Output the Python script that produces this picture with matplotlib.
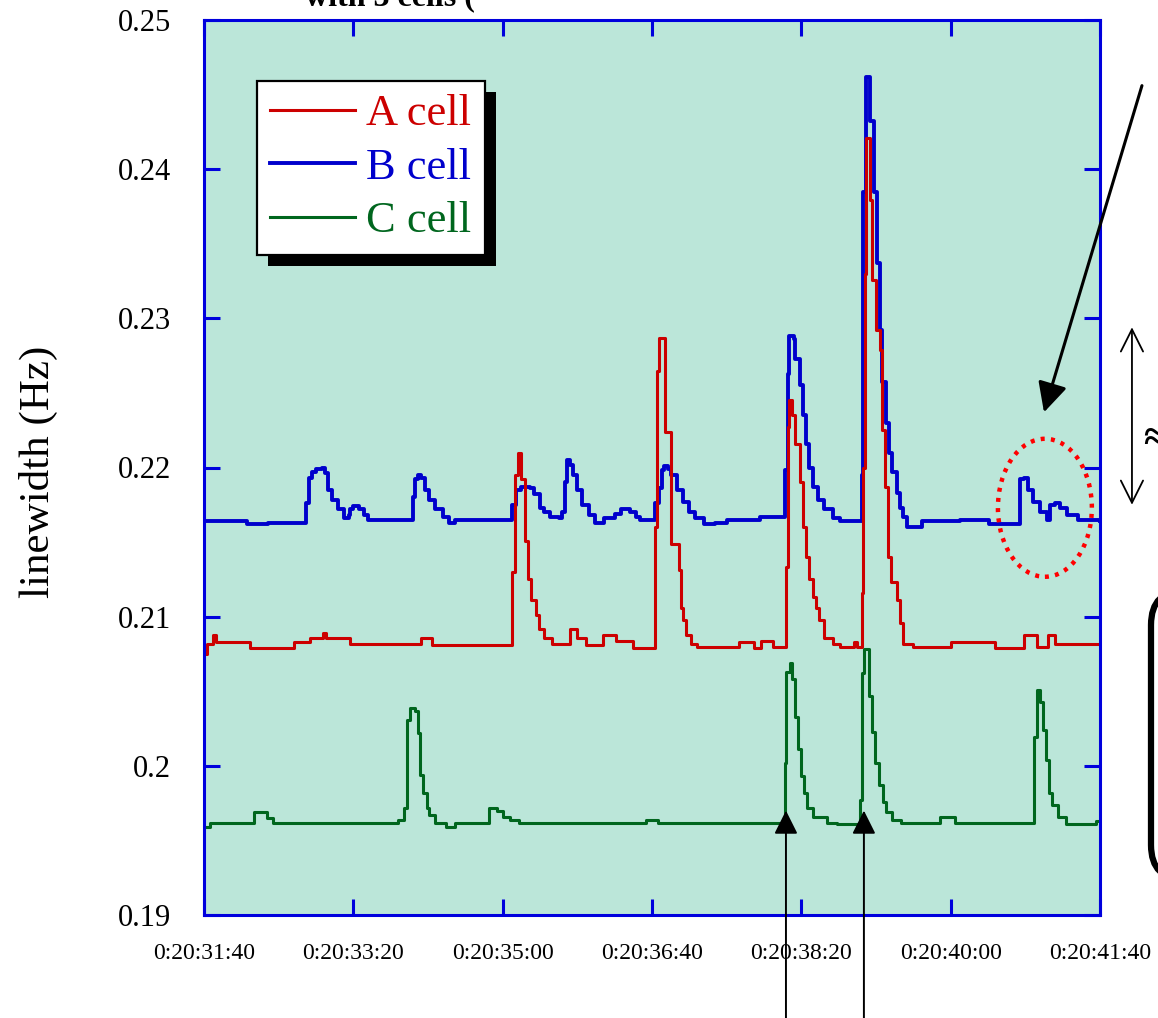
import matplotlib
matplotlib.use('Agg')
import matplotlib.pyplot as plt
from matplotlib.patches import Ellipse, FancyBboxPatch, Rectangle
from matplotlib.transforms import IdentityTransform

plt.rcParams['font.family'] = ['Liberation Serif', 'DejaVu Serif']

# time in seconds after 0:20:31:40
x_ticks = [0, 100, 200, 300, 400, 500, 600]
x_labels = ['0:20:31:40', '0:20:33:20', '0:20:35:00', '0:20:36:40',
            '0:20:38:20', '0:20:40:00', '0:20:41:40']
y_ticks = [0.19, 0.20, 0.21, 0.22, 0.23, 0.24, 0.25]
y_labels = ['0.19', '0.2', '0.21', '0.22', '0.23', '0.24', '0.25']

# B cell (blue)
b_t = [0, 29, 43, 68, 70, 72, 75, 79, 81, 83, 86, 90, 94, 97, 98, 100, 104, 107, 110,
       140, 141, 143, 145, 148, 151, 155, 160, 164, 168,
       206, 209, 212, 218, 221, 225, 228, 232, 238, 240, 242, 243, 245, 247, 250, 253,
       258, 262, 268, 275, 279, 285, 289, 292,
       302, 305, 307, 308, 311, 313, 317, 321, 325, 329, 335, 342, 350, 372,
       389, 391, 392, 395, 396, 399, 401, 403, 405, 408, 411, 415, 421, 426,
       440.5, 441.5, 443, 446, 448.5, 450.5, 452.5, 454, 457, 459, 461, 464, 466, 468,
       471, 481, 506, 526, 546.5, 549, 552, 555, 560, 564.5, 566.5, 570, 573, 578, 585, 600]
b_v = [0.2164, 0.2162, 0.2163, 0.2176, 0.2193, 0.2197, 0.2199, 0.2200, 0.2196, 0.2185,
       0.2178, 0.2172, 0.2166, 0.2168, 0.2172, 0.2174, 0.2172, 0.2168, 0.2165,
       0.2180, 0.2192, 0.2195, 0.2193, 0.2185, 0.2178, 0.2172, 0.2167, 0.2163, 0.2165,
       0.2175, 0.2185, 0.2187, 0.2186, 0.2182, 0.2173, 0.2170, 0.2167, 0.2166, 0.2170,
       0.2190, 0.2205, 0.2202, 0.2195, 0.2185, 0.2175,
       0.2168, 0.2163, 0.2166, 0.2169, 0.2172, 0.2170, 0.2167, 0.2165,
       0.2176, 0.2186, 0.2198, 0.2201, 0.2199, 0.2195, 0.2185, 0.2177, 0.2170, 0.2166,
       0.2162, 0.2163, 0.2165, 0.2167,
       0.2198, 0.2263, 0.2288, 0.2286, 0.2273, 0.2255, 0.2235, 0.2216, 0.2200, 0.2187,
       0.2178, 0.2172, 0.2166, 0.2164,
       0.2195, 0.2385, 0.2462, 0.2432, 0.2385, 0.2337, 0.2292, 0.2257, 0.2230, 0.2210,
       0.2197, 0.2183, 0.2173, 0.2167,
       0.2160, 0.2164, 0.2165, 0.2162, 0.2192, 0.2193, 0.2185, 0.2177, 0.2170, 0.2165,
       0.2175, 0.2176, 0.2173, 0.2168, 0.2165, 0.2164]

# A cell (red)
a_t = [0, 2, 6, 8, 31, 60, 71, 80, 82, 98, 145, 153,
       206, 208, 210, 212.5, 215, 217, 219, 222, 224, 228, 233, 245, 250, 256, 267, 276, 287,
       302, 303.5, 305, 309, 313, 318, 319.5, 321, 323, 326, 330, 358, 368, 373, 381,
       389.5, 391, 392, 394, 396, 399, 401, 403, 405, 408, 410, 412, 415, 421, 426, 435, 437,
       440.5, 441.5, 442.5, 443.5, 446, 447, 450, 452.5, 454, 456, 458, 460, 464, 466, 468,
       475, 500, 530, 549, 558, 565, 570, 600]
a_v = [0.2075, 0.2082, 0.2088, 0.2083, 0.2079, 0.2083, 0.2086, 0.2089, 0.2086, 0.2082,
       0.2086, 0.2081,
       0.2130, 0.2195, 0.2210, 0.2192, 0.2151, 0.2125, 0.2111, 0.2101, 0.2092, 0.2086,
       0.2082, 0.2092, 0.2086, 0.2081, 0.2088, 0.2084, 0.2079,
       0.2160, 0.2265, 0.2287, 0.2224, 0.2149, 0.2131, 0.2106, 0.2098, 0.2088, 0.2082,
       0.2080, 0.2083, 0.2079, 0.2084, 0.2080,
       0.2133, 0.2227, 0.2245, 0.2235, 0.2216, 0.2190, 0.2160, 0.2140, 0.2125, 0.2113,
       0.2106, 0.2098, 0.2086, 0.2082, 0.2080, 0.2083, 0.2080,
       0.2116, 0.2200, 0.2330, 0.2421, 0.2379, 0.2326, 0.2292, 0.2279, 0.2225, 0.2187,
       0.2140, 0.2123, 0.2111, 0.2096, 0.2082,
       0.2080, 0.2083, 0.2079, 0.2088, 0.2080, 0.2088, 0.2082, 0.2082]

# C cell (green)
c_t = [0, 4, 33.5, 42, 46, 130, 134, 136, 138, 141, 143, 144.5, 146.5, 149, 151, 155,
       162, 168, 191, 196, 200, 205, 211, 296, 304,
       389, 390, 392.5, 394, 396, 397.5, 400, 402, 404, 407.5, 417, 424,
       439.5, 440.5, 442, 445, 447, 449.5, 452, 455, 457, 460.5, 467, 493, 503,
       556, 558, 560, 562, 564, 566, 568, 572, 577, 597, 600]
c_v = [0.1959, 0.1962, 0.1969, 0.1965, 0.1962, 0.1964, 0.1972, 0.2031, 0.2039, 0.2037,
       0.2022, 0.1994, 0.1982, 0.1972, 0.1967, 0.1962,
       0.1959, 0.1962, 0.1972, 0.1970, 0.1966, 0.1964, 0.1962, 0.1964, 0.1962,
       0.2002, 0.2063, 0.2069, 0.2058, 0.2033, 0.2011, 0.1993, 0.1982, 0.1972, 0.1966,
       0.1962, 0.1961,
       0.1977, 0.2062, 0.2078, 0.2047, 0.2023, 0.2002, 0.1987, 0.1976, 0.1969, 0.1964,
       0.1962, 0.1966, 0.1962,
       0.2019, 0.2051, 0.2043, 0.2024, 0.2004, 0.1982, 0.1974, 0.1966, 0.1961, 0.1963,
       0.1963]

fig = plt.figure(figsize=(11.58, 10.18), dpi=100)
ax = fig.add_axes([204 / 1158, 103 / 1018, 896 / 1158, 895 / 1018])
ax.set_facecolor('#BBE6D9')

ax.plot(b_t, b_v, drawstyle='steps-post', color='#0000CC', lw=2.8, label='B cell')
ax.plot(a_t, a_v, drawstyle='steps-post', color='#CC0000', lw=2.2, label='A cell')
ax.plot(c_t, c_v, drawstyle='steps-post', color='#00661E', lw=2.2, label='C cell')

ax.set_xlim(0, 600)
ax.set_ylim(0.19, 0.25)
ax.set_xticks(x_ticks)
ax.set_xticklabels(x_labels, fontsize=17)
ax.set_yticks(y_ticks)
ax.set_yticklabels(y_labels, fontsize=22)
ax.tick_params(direction='in', length=11.5, width=2.2, color='#0000DD',
               top=True, right=True)
ax.tick_params(axis='x', pad=20)
ax.tick_params(axis='y', pad=24)
for sp in ax.spines.values():
    sp.set_color('#0000DD')
    sp.set_linewidth(2.2)

ax.set_ylabel('linewidth (Hz)', fontsize=31)
ax.yaxis.set_label_coords(-0.163, 0.495)

# legend in A, B, C order
h, l = ax.get_legend_handles_labels()
order = [1, 0, 2]
leg = ax.legend([h[i] for i in order], [l[i] for i in order],
                loc='upper left', bbox_to_anchor=(0.0592, 0.9318), borderaxespad=0,
                fontsize=32, handlelength=1.9, handletextpad=0.26, labelspacing=0.3,
                borderpad=0.3, fancybox=False, framealpha=1, edgecolor='black')
leg.get_frame().set_linewidth(1.6)
for txt, hd in zip(leg.get_texts(), leg.get_lines()):
    txt.set_color(hd.get_color())

# title cut off at the top
fig.text(305 / 1158, 1 - 5 / 1018, 'with 3 cells (', fontsize=23, fontweight='bold',
         ha='left', va='baseline')

# arrows from below
for t in [389.7, 441.9]:
    ax.annotate('', xy=(t, 0.1970), xytext=(t, 0.1825), annotation_clip=False,
                arrowprops=dict(arrowstyle='-|>,head_length=0.72,head_width=0.36',
                                color='black', lw=1.4, mutation_scale=20,
                                shrinkA=0, shrinkB=0))

# big arrow to the small blue bump
ax.annotate('', xy=(562.5, 0.2237), xytext=(628.1, 0.2456), annotation_clip=False,
            arrowprops=dict(arrowstyle='-|>,head_length=0.9,head_width=0.45',
                            color='black', lw=2.2, mutation_scale=20,
                            shrinkA=0, shrinkB=0))

# dotted red ellipse
ax.add_patch(Ellipse((563.1, 0.2173), 62.9, 0.00925, fill=False, edgecolor='#FF0000',
                     lw=3.2, linestyle=(0, (0.9, 1.4)), clip_on=False, zorder=6))

# double arrow at the right
ax.annotate('', xy=(621.4, 0.2294), xytext=(621.4, 0.2175), annotation_clip=False,
            arrowprops=dict(arrowstyle='<->,head_length=0.8,head_width=0.4',
                            color='black', lw=1.3, mutation_scale=20,
                            shrinkA=0, shrinkB=0))
fig.text(1143 / 1158, 1 - 440 / 1018, '\u2248', fontsize=30, fontweight='bold',
         ha='left', va='center')

# rounded box cut at the right edge
fig.patches.append(FancyBboxPatch((1151, 138), 160, 290,
                                  boxstyle='round,pad=0,rounding_size=35',
                                  transform=IdentityTransform(), facecolor='white',
                                  edgecolor='black', lw=4.5, figure=fig))

# legend shadow
fig.canvas.draw()
bb = leg.get_window_extent()
ax.add_patch(Rectangle((bb.x0 + 11, bb.y0 - 11), bb.width, bb.height,
                       transform=IdentityTransform(), facecolor='black',
                       edgecolor='none', zorder=4.9, clip_on=False))

fig.savefig('out.png', dpi=100)
